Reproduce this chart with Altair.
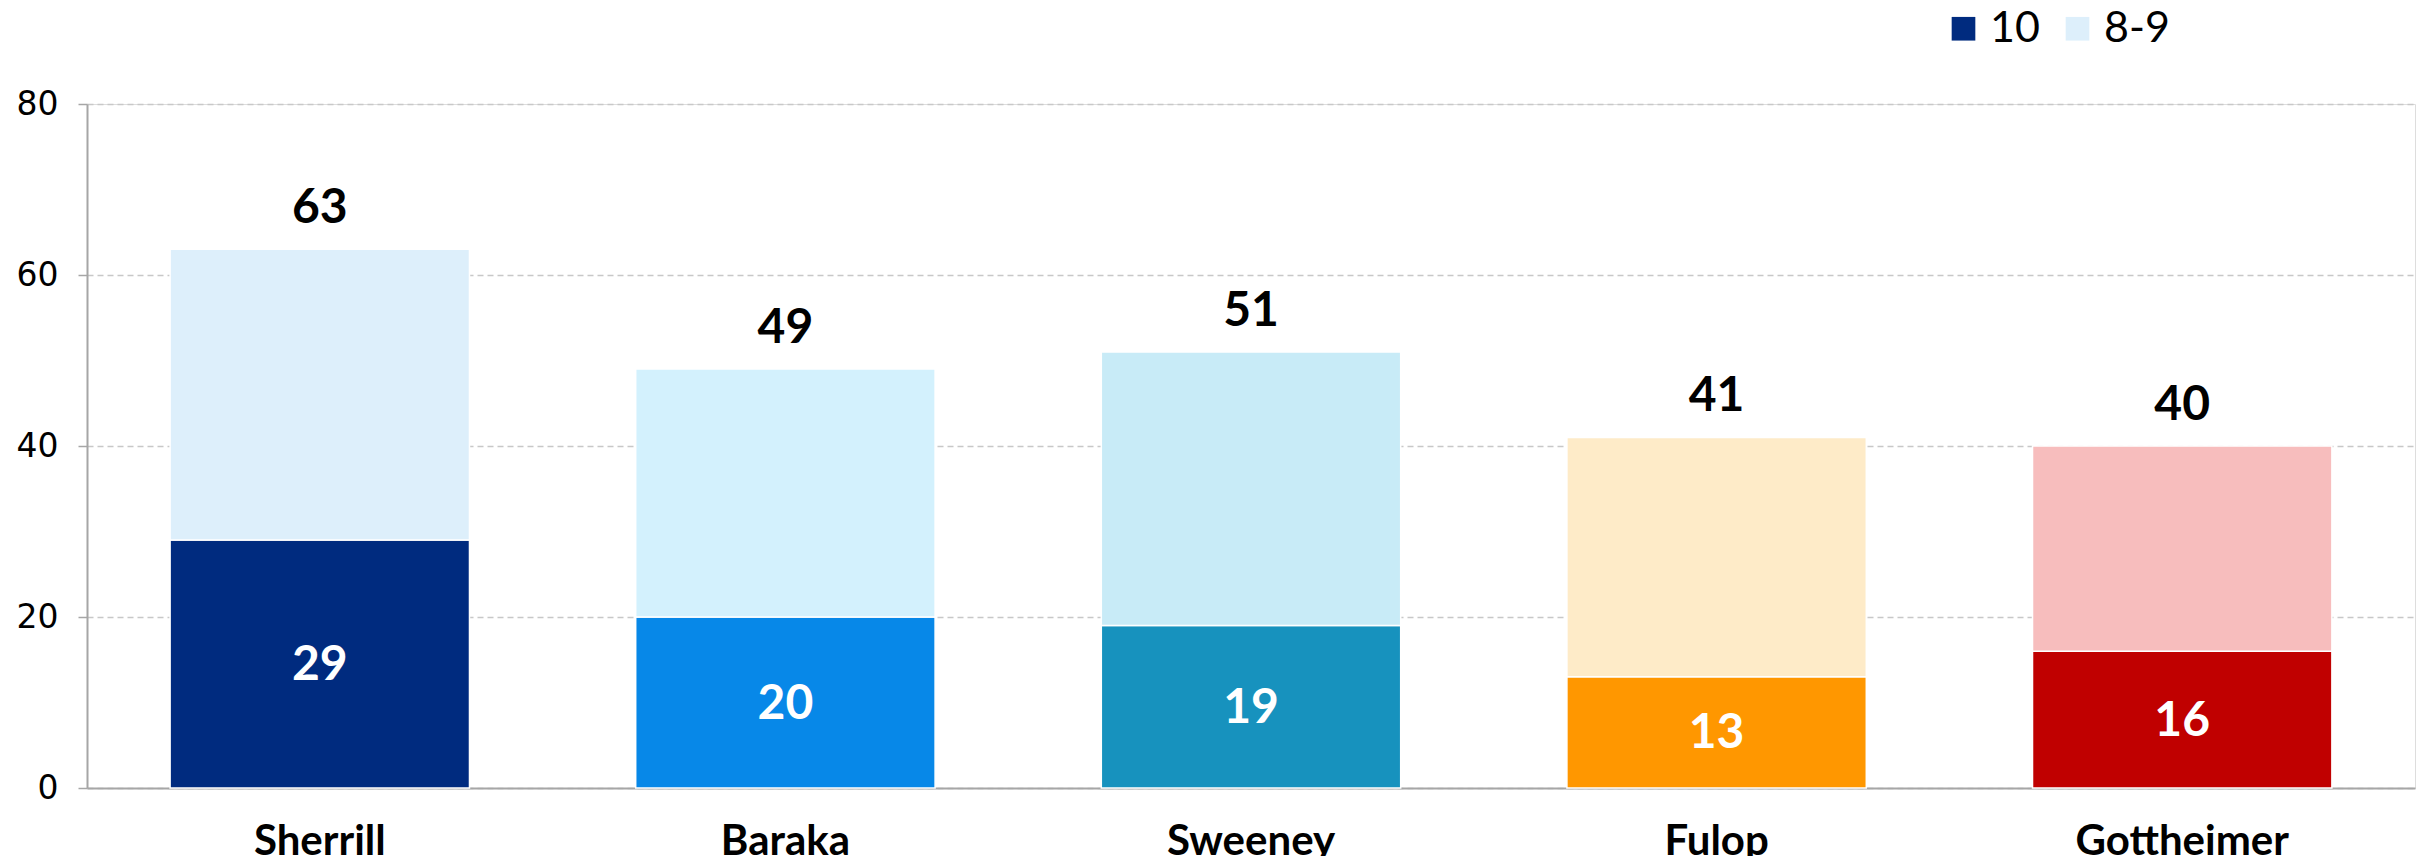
import altair as alt
import pandas as pd

candidates = ["Sherrill", "Baraka", "Sweeney", "Fulop", "Gottheimer"]
rating_10 = [29, 20, 19, 13, 16]
rating_8_9 = [34, 29, 32, 28, 24]
totals = [63, 49, 51, 41, 40]
dark_colors = ["#002B7F", "#0788E8", "#1792BE", "#FF9700", "#C00000"]
light_colors = ["#DDEFFB", "#D3F1FD", "#C8EBF7", "#FEEBC8", "#F7BDBD"]
levels = ["10", "8-9"]
legend_colors = ["#002B7F", "#DDEFFB"]
y_ticks = [0, 20, 40, 60, 80]

rows = []
keys = []
key_colors = []
for i, c in enumerate(candidates):
    rows.append(dict(candidate=c, level="10", value=rating_10[i], key=c + "|10", rank=0))
    rows.append(dict(candidate=c, level="8-9", value=rating_8_9[i], key=c + "|8-9", rank=1))
    keys += [c + "|10", c + "|8-9"]
    key_colors += [dark_colors[i], light_colors[i]]
long_df = pd.DataFrame(rows)
summary = pd.DataFrame(dict(candidate=candidates, v10=rating_10, total=totals))

LABEL_FONT = "Lato"

x_enc = alt.X(
    "candidate:N",
    sort=candidates,
    scale=alt.Scale(paddingInner=0.357, paddingOuter=0.1785),
    axis=alt.Axis(
        title=None, labelAngle=0, labelFont=LABEL_FONT, labelFontWeight="bold",
        labelFontSize=42, labelColor="black", labelPadding=33, ticks=False,
        labelLimit=0, domainColor="#A6A6A6", domainWidth=2,
    ),
)
y_scale = alt.Scale(domain=[0, 80], nice=False)

bars = alt.Chart(long_df).mark_bar(stroke="white", strokeWidth=1.5).encode(
    x=x_enc,
    y=alt.Y(
        "value:Q", stack="zero", scale=y_scale,
        axis=alt.Axis(
            title=None, values=y_ticks, labelFont="DejaVu Sans", labelFontSize=33,
            labelColor="black", labelPadding=20, tickSize=9, tickColor="#A6A6A6",
            tickWidth=1.5, domainColor="#A6A6A6", domainWidth=2,
            grid=True, gridColor="#C8C8C8", gridDash=[6, 4], gridWidth=1.5,
        ),
    ),
    fill=alt.Fill("key:N", scale=alt.Scale(domain=keys, range=key_colors), legend=None),
    order=alt.Order("rank:Q", sort="ascending"),
)

legend_layer = alt.Chart(long_df).transform_filter("false").mark_square(opacity=1).encode(
    x=alt.X("candidate:N", sort=candidates),
    y=alt.Y("value:Q"),
    color=alt.Color(
        "level:N",
        scale=alt.Scale(domain=levels, range=legend_colors),
        legend=alt.Legend(
            title=None, orient="none", legendX=1855, legendY=-97, direction="horizontal",
            labelFont=LABEL_FONT, labelFontSize=43, labelColor="black",
            symbolType="square", symbolSize=560, symbolStrokeWidth=0, symbolOpacity=1,
            labelOffset=5, columnPadding=16, padding=0,
        ),
    ),
)

top_labels = alt.Chart(summary).mark_text(
    font=LABEL_FONT, fontWeight="bold", fontSize=48, color="black",
    baseline="alphabetic", dy=-26,
).encode(
    x=alt.X("candidate:N", sort=candidates),
    y=alt.Y("total:Q"),
    text=alt.Text("total:Q"),
)

inner_labels = alt.Chart(summary).transform_calculate(
    mid="datum.v10 / 2"
).mark_text(
    font=LABEL_FONT, fontWeight="bold", fontSize=48, color="white", baseline="middle", dy=2,
).encode(
    x=alt.X("candidate:N", sort=candidates),
    y=alt.Y("mid:Q"),
    text=alt.Text("v10:Q"),
)

chart = alt.layer(bars, legend_layer, top_labels, inner_labels).properties(
    width=2328,
    height=684,
    padding={"left": 79, "top": 96, "right": 12, "bottom": 68},
    autosize=alt.AutoSizeParams(type="none"),
).configure_view(stroke=None).configure(background="white")

chart.save("out.html", embed_options={"renderer": "svg", "actions": False})
